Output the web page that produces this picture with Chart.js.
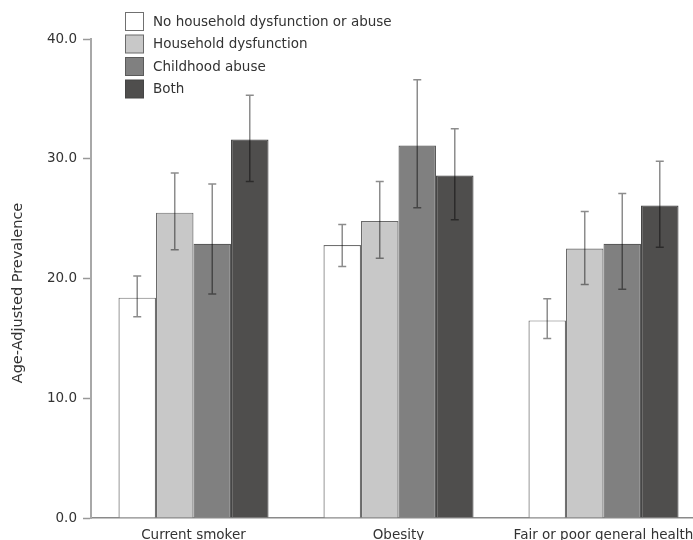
<!DOCTYPE html>
<html>
<head>
<meta charset="utf-8">
<script src="https://cdn.jsdelivr.net/npm/chart.js@4.4.1/dist/chart.umd.min.js"></script>
<style>
  html, body { margin: 0; padding: 0; background: #fff; overflow: hidden; }
  #wrap { position: relative; width: 712px; height: 540px; }
</style>
</head>
<body>
<div id="wrap"><canvas id="chart"></canvas></div>
<script>
// categories on the x axis
const categories = ['Current smoker', 'Obesity', 'Fair or poor general health'];

// group names (legend)
const groups = ['No household dysfunction or abuse', 'Household dysfunction', 'Childhood abuse', 'Both'];

// age-adjusted prevalence per group
const noneValues = [18.4, 22.8, 16.5];
const householdValues = [25.5, 24.8, 22.5];
const abuseValues = [22.9, 31.1, 22.9];
const bothValues = [31.6, 28.6, 26.1];

// 95% confidence limits
const noneLow = [16.8, 21.0, 15.0];
const noneHigh = [20.2, 24.5, 18.3];
const householdLow = [22.4, 21.7, 19.5];
const householdHigh = [28.8, 28.1, 25.6];
const abuseLow = [18.7, 25.9, 19.1];
const abuseHigh = [27.9, 36.6, 27.1];
const bothLow = [28.1, 24.9, 22.6];
const bothHigh = [35.3, 32.5, 29.8];

// y axis ticks
const yTicks = [0, 10, 20, 30, 40];

const fills = ['#ffffff', '#c8c8c8', '#808080', '#4f4e4d'];
const borders = ['#707070', '#6a6a6a', '#5a5a5a', '#444444'];

const values = [noneValues, householdValues, abuseValues, bothValues];
const lows = [noneLow, householdLow, abuseLow, bothLow];
const highs = [noneHigh, householdHigh, abuseHigh, bothHigh];

const FONT = '"DejaVu Sans", Verdana, sans-serif';

//draws the error bars on each bar
const errorBars = {
  id: 'errorBars',
  afterDatasetsDraw(chart) {
    const ctx = chart.ctx;
    const y = chart.scales.y;
    ctx.save();
    ctx.strokeStyle = 'rgba(0,0,0,0.45)';
    ctx.lineWidth = 1.5;
    chart.data.datasets.forEach((ds, d) => {
      const meta = chart.getDatasetMeta(d);
      meta.data.forEach((bar, i) => {
        const top = y.getPixelForValue(ds.high[i]);
        const bot = y.getPixelForValue(ds.low[i]);
        ctx.beginPath();
        ctx.moveTo(bar.x, top);
        ctx.lineTo(bar.x, bot);
        ctx.moveTo(bar.x - 4, top);
        ctx.lineTo(bar.x + 4, top);
        ctx.moveTo(bar.x - 4, bot);
        ctx.lineTo(bar.x + 4, bot);
        ctx.stroke();
      });
    });
    ctx.restore();
  }
};

//vertical legend in the top left of the plot + y axis title
const boxLegend = {
  id: 'boxLegend',
  afterDraw(chart) {
    const ctx = chart.ctx;
    ctx.save();
    ctx.font = '13.5px ' + FONT;
    ctx.textBaseline = 'middle';
    chart.data.datasets.forEach((ds, d) => {
      const top = 12.5 + d * 22.5;
      ctx.fillStyle = ds.backgroundColor;
      ctx.fillRect(125.5, top, 18, 18);
      ctx.strokeStyle = ds.borderColor;
      ctx.lineWidth = 1;
      ctx.strokeRect(125.5, top, 18, 18);
      ctx.fillStyle = '#333';
      ctx.fillText(ds.label, 153, top + 9.5);
    });

    //axis title sits a little below the middle of the axis
    ctx.translate(18, 293);
    ctx.rotate(-Math.PI / 2);
    ctx.textAlign = 'center';
    ctx.font = '14.5px ' + FONT;
    ctx.fillText('Age-Adjusted Prevalence', 0, 0);
    ctx.restore();
  }
};

new Chart(document.getElementById('chart'), {
  type: 'bar',
  data: {
    labels: categories,
    datasets: groups.map((g, d) => ({
      label: g,
      data: values[d],
      low: lows[d],
      high: highs[d],
      backgroundColor: fills[d],
      borderColor: borders[d],
      borderWidth: 1.2,
      barPercentage: 1,
      categoryPercentage: 0.732
    }))
  },
  options: {
    responsive: true,
    maintainAspectRatio: false,
    animation: false,
    layout: { padding: { top: 39, right: 6, left: 0, bottom: 0 } },
    plugins: {
      legend: { display: false },
      tooltip: { enabled: false }
    },
    scales: {
      x: {
        grid: { display: false, drawTicks: false },
        border: { color: '#8a8a8a', width: 1.5 },
        ticks: {
          color: '#333',
          padding: 9,
          maxRotation: 0,
          autoSkip: false,
          font: { family: FONT, size: 13.5 }
        },
        afterFit(scale) { scale.height = 22; }
      },
      y: {
        min: 0,
        max: 40,
        afterBuildTicks(scale) { scale.ticks = yTicks.map(v => ({ value: v })); },
        grid: { drawOnChartArea: false, color: '#999', tickLength: 8, tickWidth: 1.5 },
        border: { color: '#a8a8a8', width: 2 },
        ticks: {
          color: '#333',
          padding: 6,
          callback: v => v.toFixed(1),
          font: { family: FONT, size: 13.5 }
        },
        afterFit(scale) { scale.width = 91; }
      }
    }
  },
  plugins: [errorBars, boxLegend]
});
</script>
</body>
</html>
